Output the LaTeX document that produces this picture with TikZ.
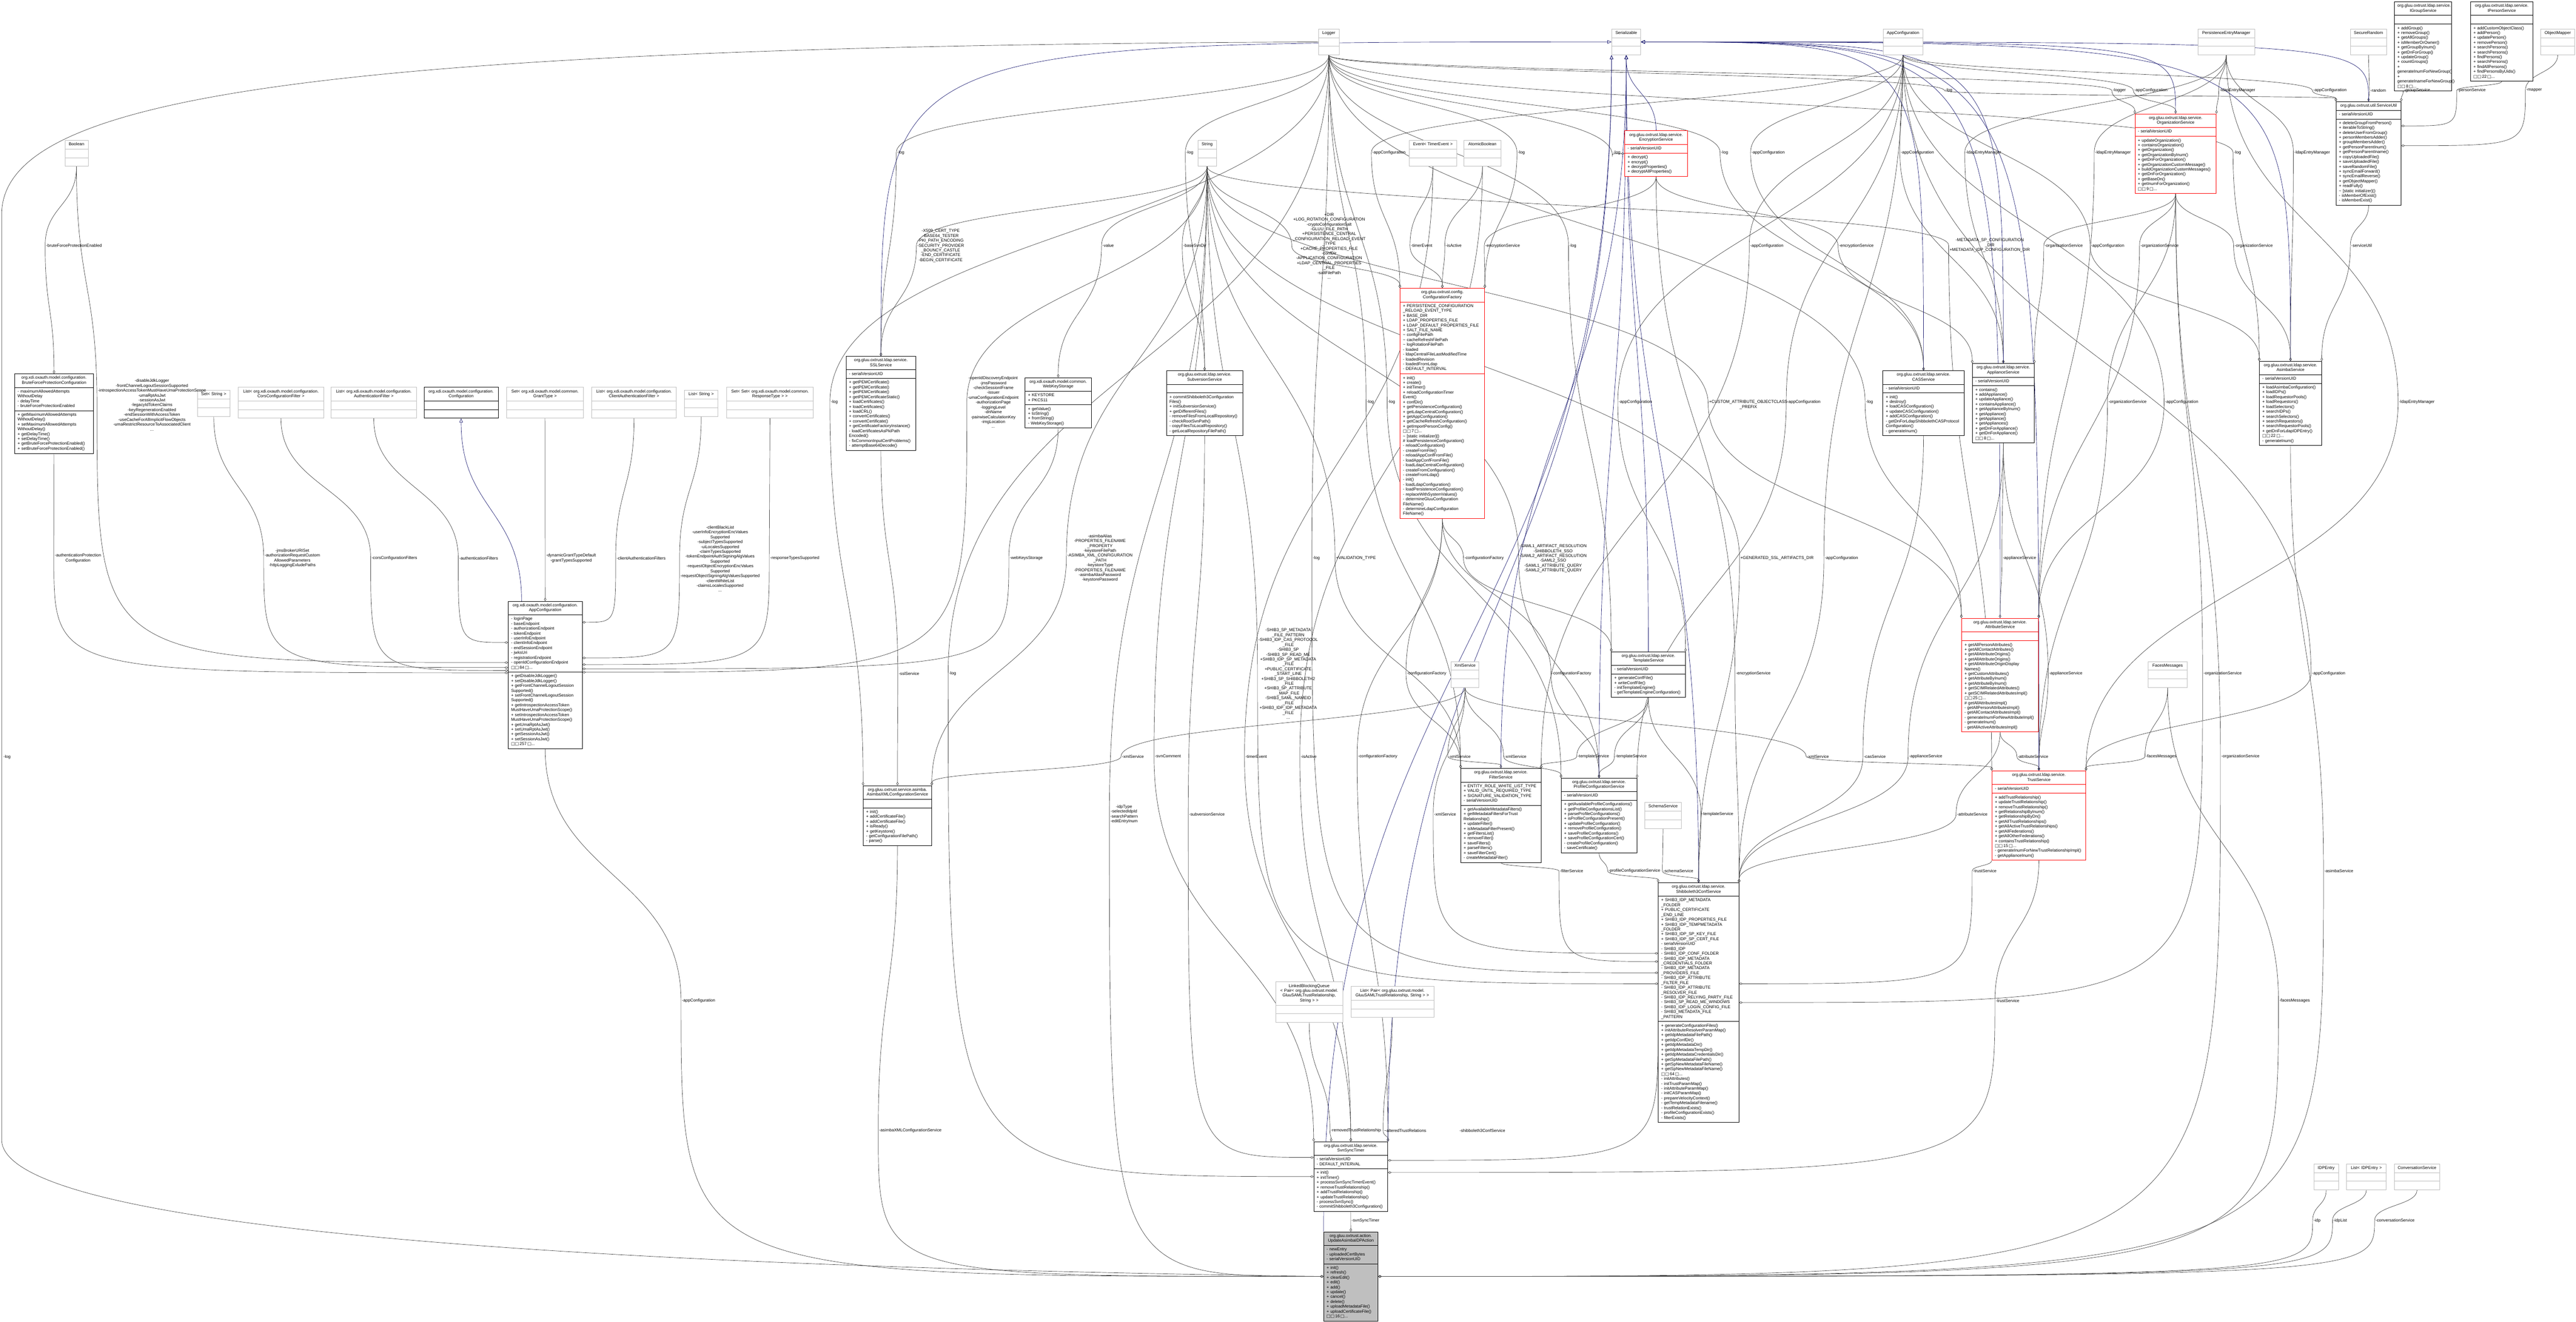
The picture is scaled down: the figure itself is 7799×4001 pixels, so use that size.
\documentclass[tikz,border=0pt]{standalone}
\usepackage{fontspec}
\setmainfont{Liberation Sans}
\newfontfamily\boxglyphs{DejaVu Sans}
\usetikzlibrary{shapes.multipart,arrows.meta,calc,backgrounds}
\definecolor{EdgeGray}{HTML}{404040}
\definecolor{InheritBlue}{HTML}{191970}
\definecolor{ExtGray}{HTML}{BFBFBF}
\definecolor{ClassRed}{HTML}{FF0000}
\hyphenpenalty=10000
\exhyphenpenalty=10000
\newcommand{\ttl}[1]{\centering\strut#1\strut\par}
\newcommand{\mb}[1]{\strut#1\strut}
\newcommand{\more}[1]{{\boxglyphs\char"25A1\char"25A1}\,#1\,{\boxglyphs\char"25A1}...}
\tikzset{
  cls/.style={rectangle split, rectangle split parts=3, draw=black, fill=white,
    line width=0.3pt, anchor=north west, align=left, inner xsep=2.5pt, inner ysep=1.5pt,
    font=\fontsize{3.6pt}{4.18pt}\selectfont},
  redcls/.style={cls, draw=ClassRed, line width=0.4pt},
  extcls/.style={cls, draw=ExtGray},
  maincls/.style={cls, fill=ExtGray},
  lbl/.style={align=center, inner sep=0.6pt, font=\fontsize{3.6pt}{4.18pt}\selectfont},
  member/.style={draw=EdgeGray, line width=0.3pt, -{Diamond[open,length=3pt,width=2pt]}},
  inherit/.style={draw=InheritBlue, line width=0.3pt, -{Triangle[open,length=3.5pt,width=3pt]}},
  vflow/.style={to path={.. controls ($(\tikztostart)!.5!(\tikztostart|-\tikztotarget)$)
      and ($(\tikztotarget)!.5!(\tikztotarget|-\tikztostart)$) .. (\tikztotarget) \tikztonodes}},
  corner/.style={to path={.. controls (\tikztostart|-\tikztotarget) .. (\tikztotarget) \tikztonodes}},
}
\begin{document}
\begin{tikzpicture}[x=0.01cm,y=-0.01cm]
\useasboundingbox (0,0) rectangle (7799,4001);

% top row types
\node[extcls, text width=12.4pt] (logger) at (3992,87) {\ttl{Logger}\nodepart{two}\strut\nodepart{three}\strut};
\node[extcls, text width=20pt] (serial) at (4879,87) {\ttl{Serializable}\nodepart{two}\strut\nodepart{three}\strut};
\node[extcls, text width=29.1pt] (appconf) at (5701,87) {\ttl{AppConfiguration}\nodepart{two}\strut\nodepart{three}\strut};
\node[extcls, text width=43.7pt] (pem) at (6654,87) {\ttl{PersistenceEntryManager}\nodepart{two}\strut\nodepart{three}\strut};
\node[extcls, text width=26.3pt] (secrand) at (7115,87) {\ttl{SecureRandom}\nodepart{two}\strut\nodepart{three}\strut};
\node[cls, text width=44.2pt] (igroup) at (7249,5) {\ttl{org.gluu.oxtrust.ldap.service.\\IGroupService}\nodepart{two}\strut\nodepart{three}\mb{+ addGroup()\\+ removeGroup()\\+ getAllGroups()\\+ isMemberOrOwner()\\+ getGroupByInum()\\+ getDnForGroup()\\+ updateGroup()\\+ countGroups()\\+ generateInumForNewGroup()\\+ generateInameForNewGroup()\\\more{8}}};
\node[cls, text width=48.8pt] (iperson) at (7479,5) {\ttl{org.gluu.oxtrust.ldap.service.\\IPersonService}\nodepart{two}\strut\nodepart{three}\mb{+ addCustomObjectClass()\\+ addPerson()\\+ updatePerson()\\+ removePerson()\\+ searchPersons()\\+ searchPersons()\\+ findPersons()\\+ searchPersons()\\+ findAllPersons()\\+ findPersonsByUids()\\\more{22}}};
\node[extcls, text width=24pt] (mapper) at (7692,87) {\ttl{ObjectMapper}\nodepart{two}\strut\nodepart{three}\strut};

% second row
\node[extcls, text width=14.9pt] (boolean) at (196,424) {\ttl{Boolean}\nodepart{two}\strut\nodepart{three}\strut};
\node[extcls, text width=10.9pt] (string) at (3626,424) {\ttl{String}\nodepart{two}\strut\nodepart{three}\strut};
\node[extcls, text width=35.7pt] (event) at (4266,424) {\ttl{Event< TimerEvent >}\nodepart{two}\strut\nodepart{three}\strut};
\node[extcls, text width=26.6pt] (atomic) at (4432,424) {\ttl{AtomicBoolean}\nodepart{two}\strut\nodepart{three}\strut};
\node[redcls, text width=49.1pt] (encsvc) at (4918,395) {\ttl{org.gluu.oxtrust.ldap.service.\\EncryptionService}\nodepart{two}\mb{- serialVersionUID}\nodepart{three}\mb{+ decrypt()\\+ encrypt()\\+ decryptProperties()\\+ decryptAllProperties()}};
\node[redcls, text width=65pt] (orgsvc) at (6463,344) {\ttl{org.gluu.oxtrust.ldap.service.\\OrganizationService}\nodepart{two}\mb{- serialVersionUID}\nodepart{three}\mb{+ updateOrganization()\\+ containsOrganization()\\+ getOrganization()\\+ getOrganizationByInum()\\+ getDnForOrganization()\\+ getOrganizationCustomMessage()\\+ buildOrganizationCustomMessages()\\+ getDnForOrganization()\\+ getBaseDn()\\+ getInumForOrganization()\\\more{9}}};
\node[cls, text width=51pt] (svcutil) at (7072,307) {\ttl{org.gluu.oxtrust.util.ServiceUtil}\nodepart{two}\mb{- serialVersionUID}\nodepart{three}\mb{+ deleteGroupFromPerson()\\+ iterableToString()\\+ deleteUserFromGroup()\\+ personMembersAdder()\\+ groupMembersAdder()\\+ getPersonParentInum()\\+ getPersonParentIname()\\+ copyUploadedFile()\\+ saveUploadedFile()\\+ saveRandomFile()\\+ syncEmailForward()\\+ syncEmailReverse()\\+ getObjectMapper()\\+ readFully()\\\textasciitilde{} [static initializer]()\\- isMemberOfExist()\\- isMemberExist()}};
\node[redcls, text width=67.8pt] (conffac) at (4238,872) {\ttl{org.gluu.oxtrust.config.\\ConfigurationFactory}\nodepart{two}\mb{+ PERSISTENCE\_CONFIGURATION\\\_RELOAD\_EVENT\_TYPE\\+ BASE\_DIR\\+ LDAP\_PROPERTIES\_FILE\\+ LDAP\_DEFAULT\_PROPERTIES\_FILE\\+ SALT\_FILE\_NAME\\\textasciitilde{} configFilePath\\\textasciitilde{} cacheRefreshFilePath\\\textasciitilde{} logRotationFilePath\\- loaded\\- ldapCentralFileLastModifiedTime\\- loadedRevision\\- loadedFromLdap\\- DEFAULT\_INTERVAL}\nodepart{three}\mb{+ init()\\+ create()\\+ initTimer()\\+ reloadConfigurationTimer\\Event()\\+ confDir()\\+ getPersistenceConfiguration()\\+ getLdapCentralConfiguration()\\+ getAppConfiguration()\\+ getCacheRefreshConfiguration()\\+ getImportPersonConfig()\\\more{7}\\\textasciitilde{} [static initializer]()\\\# loadPersistenceConfiguration()\\- reloadConfiguration()\\- createFromFile()\\- reloadAppConfFromFile()\\- loadAppConfFromFile()\\- loadLdapCentralConfiguration()\\- createFromConfiguration()\\- createFromLdap()\\- init()\\- loadLdapConfiguration()\\- loadPersistenceConfiguration()\\- replaceWithSystemValues()\\- determineGluuConfiguration\\FileName()\\- determineLdapConfiguration\\FileName()}};

% oxauth model types
\node[cls, anchor=south west, text width=62.7pt] (brute) at (44,1373) {\ttl{org.xdi.oxauth.model.configuration.\\BruteForceProtectionConfiguration}\nodepart{two}\mb{- maximumAllowedAttempts\\WithoutDelay\\- delayTime\\- bruteForceProtectionEnabled}\nodepart{three}\mb{+ getMaximumAllowedAttempts\\WithoutDelay()\\+ setMaximumAllowedAttempts\\WithoutDelay()\\+ getDelayTime()\\+ setDelayTime()\\+ getBruteForceProtectionEnabled()\\+ setBruteForceProtectionEnabled()}};
\node[extcls, text width=23.2pt] (setstr) at (597,1181) {\ttl{Set< String >}\nodepart{two}\strut\nodepart{three}\strut};
\node[extcls, text width=68.4pt] (listcors) at (721,1172) {\ttl{List< org.xdi.oxauth.model.configuration.\\CorsConfigurationFilter >}\nodepart{two}\strut\nodepart{three}\strut};
\node[extcls, text width=68.4pt] (listauth) at (1002,1172) {\ttl{List< org.xdi.oxauth.model.configuration.\\AuthenticationFilter >}\nodepart{two}\strut\nodepart{three}\strut};
\node[cls, text width=59pt] (config) at (1283,1172) {\ttl{org.xdi.oxauth.model.configuration.\\Configuration}\nodepart{two}\strut\nodepart{three}\strut};
\node[extcls, text width=61.3pt] (setgrant) at (1533,1172) {\ttl{Set< org.xdi.oxauth.model.common.\\GrantType >}\nodepart{two}\strut\nodepart{three}\strut};
\node[extcls, text width=67.8pt] (listclient) at (1791,1172) {\ttl{List< org.xdi.oxauth.model.configuration.\\ClientAuthenticationFilter >}\nodepart{two}\strut\nodepart{three}\strut};
\node[extcls, text width=23.7pt] (liststr) at (2072,1181) {\ttl{List< String >}\nodepart{two}\strut\nodepart{three}\strut};
\node[extcls, text width=69.8pt] (setset) at (2199,1172) {\ttl{Set< Set< org.xdi.oxauth.model.common.\\ResponseType > >}\nodepart{two}\strut\nodepart{three}\strut};

% services, middle rows
\node[cls, text width=55pt] (sslsvc) at (2561,1078) {\ttl{org.gluu.oxtrust.ldap.service.\\SSLService}\nodepart{two}\mb{- serialVersionUID}\nodepart{three}\mb{+ getPEMCertificate()\\+ getPEMCertificate()\\+ getPEMCertificate()\\+ getPEMCertificateStatic()\\+ loadCertificates()\\+ loadCertificates()\\+ loadCRL()\\+ convertCertificates()\\+ convertCertificate()\\+ getCertificateFactoryInstance()\\- loadCertificatesAsPkiPath\\Encoded()\\- fixCommonInputCertProblems()\\- attemptBase64Decode()}};
\node[cls, text width=51.9pt] (webkey) at (3103,1143) {\ttl{org.xdi.oxauth.model.common.\\WebKeyStorage}\nodepart{two}\mb{+ KEYSTORE\\+ PKCS11}\nodepart{three}\mb{+ getValue()\\+ toString()\\+ fromString()\\- WebKeyStorage()}};
\node[cls, text width=60.7pt] (svnsvc) at (3531,1122) {\ttl{org.gluu.oxtrust.ldap.service.\\SubversionService}\nodepart{two}\strut\nodepart{three}\mb{+ commitShibboleth3Configuration\\Files()\\+ initSubversionService()\\+ getDifferentFiles()\\- removeFilesFromLocalRepository()\\- checkRootSvnPath()\\- copyFilesToLocalRepository()\\- getLocalRepositoryFilePath()}};
\node[cls, text width=65pt] (cassvc) at (5700,1122) {\ttl{org.gluu.oxtrust.ldap.service.\\CASService}\nodepart{two}\mb{- serialVersionUID}\nodepart{three}\mb{+ init()\\+ destroy()\\+ loadCASConfiguration()\\+ updateCASConfiguration()\\+ addCASConfiguration()\\- getDnForLdapShibbolethCASProtocol\\Configuration()\\- generateInum()}};
\node[cls, text width=48.2pt] (appsvc) at (5971,1100) {\ttl{org.gluu.oxtrust.ldap.service.\\ApplianceService}\nodepart{two}\mb{- serialVersionUID}\nodepart{three}\mb{+ contains()\\+ addAppliance()\\+ updateAppliance()\\+ containsAppliance()\\+ getApplianceByInum()\\+ getAppliance()\\+ getAppliance()\\+ getAppliances()\\+ getDnForAppliance()\\+ getDnForAppliance()\\\more{8}}};
\node[cls, text width=48.5pt] (asimbasvc) at (6840,1093) {\ttl{org.gluu.oxtrust.ldap.service.\\AsimbaService}\nodepart{two}\mb{- serialVersionUID}\nodepart{three}\mb{+ loadAsimbaConfiguration()\\+ loadIDPs()\\+ loadRequestorPools()\\+ loadRequestors()\\+ loadSelectors()\\+ searchIDPs()\\+ searchSelectors()\\+ searchRequestors()\\+ searchRequestorPools()\\+ getDnForLdapIDPEntry()\\\more{22}\\- generateInum()}};
\node[cls, text width=58.7pt] (oxappconf) at (1538,1820) {\ttl{org.xdi.oxauth.model.configuration.\\AppConfiguration}\nodepart{two}\mb{- loginPage\\- baseEndpoint\\- authorizationEndpoint\\- tokenEndpoint\\- userInfoEndpoint\\- clientInfoEndpoint\\- endSessionEndpoint\\- jwksUri\\- registrationEndpoint\\- openIdConfigurationEndpoint\\\more{84}}\nodepart{three}\mb{+ getDisableJdkLogger()\\+ setDisableJdkLogger()\\+ getFrontChannelLogoutSession\\Supported()\\+ setFrontChannelLogoutSession\\Supported()\\+ getIntrospectionAccessToken\\MustHaveUmaProtectionScope()\\+ setIntrospectionAccessToken\\MustHaveUmaProtectionScope()\\+ getUmaRptAsJwt()\\+ setUmaRptAsJwt()\\+ getSessionAsJwt()\\+ setSessionAsJwt()\\\more{257}}};
\node[cls, text width=58.7pt] (tplsvc) at (4878,1973) {\ttl{org.gluu.oxtrust.ldap.service.\\TemplateService}\nodepart{two}\mb{- serialVersionUID}\nodepart{three}\mb{+ generateConfFile()\\+ writeConfFile()\\- initTemplateEngine()\\- getTemplateEngineConfiguration()}};
\node[extcls, text width=18.9pt] (xmlsvc) at (4393,2002) {\ttl{XmlService}\nodepart{two}\strut\nodepart{three}\strut};
\node[redcls, text width=61.3pt] (attrsvc) at (5938,1871) {\ttl{org.gluu.oxtrust.ldap.service.\\AttributeService}\nodepart{two}\strut\nodepart{three}\mb{+ getAllPersonAttributes()\\+ getAllContactAttributes()\\+ getAllAttributeOrigins()\\+ getAllAttributeOrigins()\\+ getAllAttributeOriginDisplay\\Names()\\+ getCustomAttributes()\\+ getAttributeByInum()\\+ getAttributeByInum()\\+ getSCIMRelatedAttributes()\\+ getSCIMRelatedAttributesImpl()\\\more{25}\\\# getAllAttributesImpl()\\- getAllPersonAttributesImpl()\\- getAllContactAttributesImpl()\\- generateInumForNewAttributeImpl()\\- generateInum()\\- getAllActiveAttributesImpl()}};
\node[extcls, text width=28.6pt] (faces) at (6503,2002) {\ttl{FacesMessages}\nodepart{two}\strut\nodepart{three}\strut};

% lower services
\node[cls, text width=64.1pt] (filtersvc) at (4422,2326) {\ttl{org.gluu.oxtrust.ldap.service.\\FilterService}\nodepart{two}\mb{+ ENTITY\_ROLE\_WHITE\_LIST\_TYPE\\+ VALID\_UNTIL\_REQUIRED\_TYPE\\+ SIGNATURE\_VALIDATION\_TYPE\\- serialVersionUID}\nodepart{three}\mb{+ getAvailableMetadataFilters()\\+ getMetadataFiltersForTrust\\Relationship()\\+ updateFilter()\\+ isMetadataFilterPresent()\\+ getFiltersList()\\+ removeFilter()\\+ saveFilters()\\+ parseFilters()\\+ saveFilterCert()\\- createMetadataFilter()}};
\node[cls, text width=60.2pt] (profsvc) at (4726,2355) {\ttl{org.gluu.oxtrust.ldap.service.\\ProfileConfigurationService}\nodepart{two}\mb{- serialVersionUID}\nodepart{three}\mb{+ getAvailableProfileConfigurations()\\+ getProfileConfigurationsList()\\+ parseProfileConfigurations()\\+ isProfileConfigurationPresent()\\+ updateProfileConfiguration()\\+ removeProfileConfiguration()\\+ saveProfileConfigurations()\\+ saveProfileConfigurationCert()\\- createProfileConfiguration()\\- saveCertificate()}};
\node[extcls, text width=26.6pt] (schema) at (4979,2429) {\ttl{SchemaService}\nodepart{two}\strut\nodepart{three}\strut};
\node[redcls, text width=75.8pt] (trustsvc) at (6030,2333) {\ttl{org.gluu.oxtrust.ldap.service.\\TrustService}\nodepart{two}\mb{- serialVersionUID}\nodepart{three}\mb{+ addTrustRelationship()\\+ updateTrustRelationship()\\+ removeTrustRelationship()\\+ getRelationshipByInum()\\+ getRelationshipByDn()\\+ getAllTrustRelationships()\\+ getAllActiveTrustRelationships()\\+ getAllFederations()\\+ getAllOtherFederations()\\+ containsTrustRelationship()\\\more{15}\\- generateInumForNewTrustRelationshipImpl()\\- getApplianceInum()}};
\node[cls, text width=53.9pt] (asimbaxml) at (2613,2378) {\ttl{org.gluu.oxtrust.service.asimba.\\AsimbaXMLConfigurationService}\nodepart{two}\strut\nodepart{three}\mb{+ init()\\+ addCertificateFile()\\+ addCertificateFile()\\+ isReady()\\+ getKeystore()\\- getConfigurationFilePath()\\- parse()}};
\node[cls, text width=64.4pt] (shibsvc) at (5020,2672) {\ttl{org.gluu.oxtrust.ldap.service.\\Shibboleth3ConfService}\nodepart{two}\mb{+ SHIB3\_IDP\_METADATA\\\_FOLDER\\+ PUBLIC\_CERTIFICATE\\\_END\_LINE\\+ SHIB3\_IDP\_PROPERTIES\_FILE\\+ SHIB3\_IDP\_TEMPMETADATA\\\_FOLDER\\+ SHIB3\_IDP\_SP\_KEY\_FILE\\+ SHIB3\_IDP\_SP\_CERT\_FILE\\- serialVersionUID\\- SHIB3\_IDP\\- SHIB3\_IDP\_CONF\_FOLDER\\- SHIB3\_IDP\_METADATA\\\_CREDENTIALS\_FOLDER\\- SHIB3\_IDP\_METADATA\\\_PROVIDERS\_FILE\\- SHIB3\_IDP\_ATTRIBUTE\\\_FILTER\_FILE\\- SHIB3\_IDP\_ATTRIBUTE\\\_RESOLVER\_FILE\\- SHIB3\_IDP\_RELYING\_PARTY\_FILE\\- SHIB3\_SP\_READ\_ME\_WINDOWS\\- SHIB3\_IDP\_LOGIN\_CONFIG\_FILE\\- SHIB3\_METADATA\_FILE\\\_PATTERN}\nodepart{three}\mb{+ generateConfigurationFiles()\\+ initAttributeResolverParamMap()\\+ getIdpMetadataFilePath()\\+ getIdpConfDir()\\+ getIdpMetadataDir()\\+ getIdpMetadataTempDir()\\+ getIdpMetadataCredentialsDir()\\+ getSpMetadataFilePath()\\+ getSpNewMetadataFileName()\\+ getSpNewMetadataFileName()\\\more{64}\\- initAttributes()\\- initTrustParamMap()\\- initAttributeParamMap()\\- initCASParamMap()\\- prepareVelocityContext()\\- getTempMetadataFilename()\\- trustRelationExists()\\- profileConfigurationExists()\\- filterExists()}};
\node[extcls, text width=52.5pt] (queue) at (3862,2972) {\ttl{LinkedBlockingQueue\\< Pair< org.gluu.oxtrust.model.\\GluuSAMLTrustRelationship,\\String > >}\nodepart{two}\strut\nodepart{three}\strut};
\node[extcls, text width=66.4pt] (listpair) at (4089,2986) {\ttl{List< Pair< org.gluu.oxtrust.model.\\GluuSAMLTrustRelationship, String > >}\nodepart{two}\strut\nodepart{three}\strut};
\node[cls, text width=58.7pt] (svntimer) at (3977,3456) {\ttl{org.gluu.oxtrust.ldap.service.\\SvnSyncTimer}\nodepart{two}\mb{- serialVersionUID\\- DEFAULT\_INTERVAL}\nodepart{three}\mb{+ init()\\+ initTimer()\\+ processSvnSyncTimerEvent()\\+ removeTrustRelationship()\\+ addTrustRelationship()\\+ updateTrustRelationship()\\- processSvnSync()\\- commitShibboleth3Configuration()}};
\node[extcls, text width=16.1pt] (idpentry) at (7005,3523) {\ttl{IDPEntry}\nodepart{two}\strut\nodepart{three}\strut};
\node[extcls, text width=28.9pt] (listidp) at (7104,3523) {\ttl{List< IDPEntry >}\nodepart{two}\strut\nodepart{three}\strut};
\node[extcls, text width=34.3pt] (convsvc) at (7248,3523) {\ttl{ConversationService}\nodepart{two}\strut\nodepart{three}\strut};
\node[maincls, text width=41.7pt] (action) at (4007,3729) {\ttl{org.gluu.oxtrust.action.\\UpdateAsimbaIDPAction}\nodepart{two}\mb{- newEntry\\- uploadedCertBytes\\- serialVersionUID}\nodepart{three}\mb{+ init()\\+ refresh()\\+ clearEdit()\\+ edit()\\+ add()\\+ update()\\+ cancel()\\+ delete()\\+ uploadMetadataFile()\\+ uploadCertificateFile()\\\more{16}}};

% side points of the boxes
\coordinate (svcR1) at ([yshift=-21.1pt]svcutil.north east);
\coordinate (svcR2) at ([yshift=-38.1pt]svcutil.north east);
\coordinate (oxTop) at ([xshift=11.7pt]oxappconf.north west);
\coordinate (oxL1) at ([yshift=-35.6pt]oxappconf.north west);
\coordinate (oxL2) at ([yshift=-52.9pt]oxappconf.north west);
\coordinate (oxL3) at ([yshift=-57.2pt]oxappconf.north west);
\coordinate (oxL4) at ([yshift=-59.7pt]oxappconf.north west);
\coordinate (oxL5) at ([yshift=-61.7pt]oxappconf.north west);
\coordinate (oxR1) at ([yshift=-18.2pt]oxappconf.north east);
\coordinate (oxR2) at ([yshift=-48.9pt]oxappconf.north east);
\coordinate (oxR3) at ([yshift=-54.6pt]oxappconf.north east);
\coordinate (oxR4) at ([yshift=-58.3pt]oxappconf.north east);
\coordinate (oxR5) at ([yshift=-61.2pt]oxappconf.north east);
\coordinate (shibL1) at ([yshift=-60.9pt]shibsvc.north west);
\coordinate (shibL2) at ([yshift=-68pt]shibsvc.north west);
\coordinate (shibL3) at ([yshift=-77.7pt]shibsvc.north west);
\coordinate (shibL4) at ([yshift=-87.1pt]shibsvc.north west);
\coordinate (shibL5) at ([yshift=-122.6pt]shibsvc.north west);
\coordinate (shibR1) at ([yshift=-87.1pt]shibsvc.north east);
\coordinate (svnL1) at ([yshift=-13.7pt]svntimer.north west);
\coordinate (svnR1) at ([yshift=-26.7pt]svntimer.north east);
\coordinate (svnR2) at ([yshift=-16.2pt]svntimer.north east);
\coordinate (svnT1) at ([xshift=15.1pt]svntimer.north west);
\coordinate (logTurn) at (5,650);
\coordinate (logDown) at (5,3450);

% edge labels
\node[lbl] (lA1) at (5900,274) {-log};
\node[lbl] (lA2) at (6416,274) {-logger};
\node[lbl] (lA3) at (6512,274) {-appConfiguration};
\node[lbl] (lA4) at (6774,274) {-ldapEntryManager};
\node[lbl] (lA5) at (7054,274) {-appConfiguration};
\node[lbl] (lA6) at (7200,274) {-random};
\node[lbl] (lA7) at (7318,274) {-groupService};
\node[lbl] (lA8) at (7483,274) {-personService};
\node[lbl] (lA9) at (7672,274) {-mapper};

\node[lbl] (lB1) at (2727,462) {-log};
\node[lbl] (lB2) at (3602,462) {-log};
\node[lbl] (lB3) at (4205,462) {-appConfiguration};
\node[lbl] (lB4) at (4606,462) {-log};
\node[lbl] (lB5) at (4895,462) {-log};
\node[lbl] (lB6) at (5221,462) {-log};
\node[lbl] (lB7) at (5353,462) {-appConfiguration};
\node[lbl] (lB8) at (5805,462) {-appConfiguration};
\node[lbl] (lB9) at (6005,462) {-ldapEntryManager};
\node[lbl] (lB10) at (6397,462) {-ldapEntryManager};
\node[lbl] (lB11) at (6774,462) {-log};
\node[lbl] (lB12) at (7000,462) {-ldapEntryManager};

\node[lbl] (lC1) at (224,744) {-bruteForceProtectionEnabled};
\node[lbl] (lC2) at (2848,744) {-X509\_CERT\_TYPE\\-BASE64\_TESTER\\-PKI\_PATH\_ENCODING\\-SECURITY\_PROVIDER\\\_BOUNCY\_CASTLE\\-END\_CERTIFICATE\\-BEGIN\_CERTIFICATE};
\node[lbl] (lC3) at (3355,744) {-value};
\node[lbl] (lC4) at (3617,744) {-baseSvnDir};
\node[lbl] (lC5) at (4024,745) {+DIR\\+LOG\_ROTATION\_CONFIGURATION\\-cryptoConfigurationSalt\\-GLUU\_FILE\_PATH\\+PERSISTENCE\_CENTRAL\\\_CONFIGURATION\_RELOAD\_EVENT\\\_TYPE\\+CACHE\_PROPERTIES\_FILE\\-confDir\\-APPLICATION\_CONFIGURATION\\+LDAP\_CENTRAL\_PROPERTIES\\\_FILE\\-saltFilePath\\...};
\node[lbl] (lC6) at (4304,744) {-timerEvent};
\node[lbl] (lC7) at (4401,744) {-isActive};
\node[lbl] (lC8) at (4549,744) {-encryptionService};
\node[lbl] (lC9) at (4762,744) {-log};
\node[lbl] (lC10) at (5349,744) {-appConfiguration};
\node[lbl] (lC11) at (5620,744) {-encryptionService};
\node[lbl] (lC12) at (6024,743) {-METADATA\_SP\_CONFIGURATION\\\_DIR\\+METADATA\_IDP\_CONFIGURATION\_DIR};
\node[lbl] (lC13) at (6248,744) {-organizationService};
\node[lbl] (lC14) at (6381,744) {-appConfiguration};
\node[lbl] (lC15) at (6538,744) {-organizationService};
\node[lbl] (lC16) at (6823,744) {-organizationService};
\node[lbl] (lC17) at (7150,744) {-serviceUtil};

\node[lbl] (lDb) at (460,1226) {-disableJdkLogger\\-frontChannelLogoutSessionSupported\\-introspectionAccessTokenMustHaveUmaProtectionScope\\-umaRptAsJwt\\-sessionAsJwt\\-legacyIdTokenClaims\\-keyRegenerationEnabled\\-endSessionWithAccessToken\\-useCacheForAllImplicitFlowObjects\\-umaRestrictResourceToAssociatedClient\\...};
\node[lbl] (lD1) at (2526,1218) {-log};
\node[lbl] (lD2) at (3007,1218) {-openIdDiscoveryEndpoint\\-jmsPassword\\-checkSessionIFrame\\-issuer\\-umaConfigurationEndpoint\\-authorizationPage\\-loggingLevel\\-dnName\\-pairwiseCalculationKey\\-imgLocation\\...};
\node[lbl] (lD3) at (4149,1218) {-log};
\node[lbl] (lD4) at (4213,1218) {-log};
\node[lbl] (lD5) at (4951,1218) {-appConfiguration};
\node[lbl] (lD6) at (5293,1225) {+CUSTOM\_ATTRIBUTE\_OBJECTCLASS\\\_PREFIX};
\node[lbl] (lD7) at (5461,1218) {-appConfiguration};
\node[lbl] (lD8) at (5660,1218) {-log};
\node[lbl] (lD9) at (6441,1218) {-organizationService};
\node[lbl] (lD10) at (6605,1218) {-appConfiguration};
\node[lbl] (lD11) at (7317,1218) {-ldapEntryManager};

\node[lbl] (lE1) at (236,1690) {-authenticationProtection\\Configuration};
\node[lbl] (lE2) at (885,1690) {-jmsBrokerURISet\\-authorizationRequestCustom\\AllowedParameters\\-httpLoggingExludePaths};
\node[lbl] (lE3) at (1194,1690) {-corsConfigurationFilters};
\node[lbl] (lE4) at (1449,1690) {-authenticationFilters};
\node[lbl] (lE5) at (1729,1690) {-dynamicGrantTypeDefault\\-grantTypesSupported};
\node[lbl] (lE6) at (1941,1690) {-clientAuthenticationFilters};
\node[lbl] (lE7) at (2180,1692) {-clientBlackList\\-userInfoEncryptionEncValues\\Supported\\-subjectTypesSupported\\-uiLocalesSupported\\-claimTypesSupported\\-tokenEndpointAuthSigningAlgValues\\Supported\\-requestObjectEncryptionEncValues\\Supported\\-requestObjectSigningAlgValuesSupported\\-clientWhiteList\\-claimsLocalesSupported\\...};
\node[lbl] (lE8) at (2406,1690) {-responseTypesSupported};
\node[lbl] (lE9) at (3107,1690) {-webKeysStorage};
\node[lbl] (lE10) at (3330,1690) {-asimbaAlias\\-PROPERTIES\_FILENAME\\\_PROPERTY\\-keystoreFilePath\\-ASIMBA\_XML\_CONFIGURATION\\\_PATH\\-keystoreType\\-PROPERTIES\_FILENAME\\-asimbaAliasPassword\\-keystorePassword};
\node[lbl] (lE11) at (3985,1690) {-log};
\node[lbl] (lE12) at (4105,1690) {+VALIDATION\_TYPE};
\node[lbl] (lE13) at (4493,1690) {-configurationFactory};
\node[lbl] (lE14) at (4702,1691) {-SAML1\_ARTIFACT\_RESOLUTION\\-SHIBBOLETH\_SSO\\-SAML2\_ARTIFACT\_RESOLUTION\\-SAML2\_SSO\\-SAML1\_ATTRIBUTE\_QUERY\\-SAML2\_ATTRIBUTE\_QUERY};
\node[lbl] (lE15) at (5380,1690) {+GENERATED\_SSL\_ARTIFACTS\_DIR};
\node[lbl] (lE16) at (5575,1690) {-appConfiguration};
\node[lbl] (lE17) at (6114,1690) {-applianceService};

\node[lbl] (lF1) at (2752,2039) {-sslService};
\node[lbl] (lF2) at (2884,2039) {-log};
\node[lbl] (lF3) at (3900,2040) {-SHIB3\_SP\_METADATA\\\_FILE\_PATTERN\\-SHIB3\_IDP\_CAS\_PROTOCOL\\\_FILE\\-SHIB3\_SP\\-SHIB3\_SP\_READ\_ME\\+SHIB3\_IDP\_SP\_METADATA\\\_FILE\\+PUBLIC\_CERTIFICATE\\\_START\_LINE\\+SHIB3\_SP\_SHIBBOLETH2\\\_FILE\\+SHIB3\_SP\_ATTRIBUTE\\\_MAP\_FILE\\-SHIB3\_SAML\_NAMEID\\\_FILE\\+SHIB3\_IDP\_IDP\_METADATA\\\_FILE\\...};
\node[lbl] (lF4) at (4319,2039) {-configurationFactory};
\node[lbl] (lF5) at (4758,2039) {-configurationFactory};
\node[lbl] (lF6) at (5308,2039) {-encryptionService};
\node[lbl] (lF7) at (6254,2039) {-applianceService};
\node[lbl] (lF8) at (6729,2039) {-organizationService};
\node[lbl] (lF9) at (7050,2039) {-appConfiguration};

\node[lbl, anchor=west] (lG0) at (8,2292) {-log};
\node[lbl] (lG1) at (3430,2290) {-xmlService};
\node[lbl] (lG2) at (3536,2290) {-svnComment};
\node[lbl] (lG3) at (3803,2290) {-timerEvent};
\node[lbl] (lG4) at (3962,2290) {-isActive};
\node[lbl] (lG5) at (4171,2290) {-configurationFactory};
\node[lbl] (lG6) at (4419,2290) {-xmlService};
\node[lbl] (lG7) at (4588,2290) {-xmlService};
\node[lbl] (lG8) at (4824,2290) {-templateService};
\node[lbl] (lG9) at (4938,2290) {-templateService};
\node[lbl] (lG10) at (5504,2290) {-xmlService};
\node[lbl] (lG11) at (5676,2290) {-casService};
\node[lbl] (lG12) at (5830,2290) {-applianceService};
\node[lbl] (lG13) at (6155,2290) {-attributeService};
\node[lbl] (lG14) at (6543,2290) {-facesMessages};
\node[lbl] (lG15) at (6783,2290) {-organizationService};

\node[lbl] (lH1) at (3403,2465) {-idpType\\-selectedIdpId\\-searchPattern\\-editEntryInum};
\node[lbl] (lH2) at (3654,2465) {-subversionService};
\node[lbl] (lH3) at (4375,2465) {-xmlService};
\node[lbl] (lH4) at (5200,2465) {-templateService};
\node[lbl] (lH5) at (5971,2465) {-attributeService};

\node[lbl] (lI1) at (4758,2637) {-filterService};
\node[lbl] (lI2) at (4948,2637) {-profileConfigurationService};
\node[lbl] (lI3) at (5081,2637) {-schemaService};
\node[lbl] (lI4) at (6009,2637) {-trustService};
\node[lbl] (lI5) at (7081,2637) {-asimbaService};

\node[lbl] (lJ1) at (2115,3030) {-appConfiguration};
\node[lbl] (lJ2) at (6078,3030) {-trustService};
\node[lbl] (lJ3) at (6947,3030) {-facesMessages};

\node[lbl] (lK1) at (2756,3423) {-asimbaXMLConfigurationService};
\node[lbl] (lK2) at (4105,3423) {-removedTrustRelationship};
\node[lbl] (lK3) at (4254,3423) {\textasciitilde{}alteredTrustRelations};
\node[lbl] (lK4) at (4488,3423) {-shibboleth3ConfService};

\node[lbl] (lL1) at (4134,3695) {-svnSyncTimer};
\node[lbl] (lL2) at (7015,3695) {-idp};
\node[lbl] (lL3) at (7085,3695) {-idpList};
\node[lbl] (lL4) at (7251,3695) {-conversationService};

\begin{scope}[on background layer]
% members, top row down
\draw[member] (logger.south) to[vflow] (lA1.west) to[vflow] (svcutil.north west);
\draw[member] (logger.south) to[vflow] (lA2.west) to[vflow] (orgsvc.north west);
\draw[member] (appconf.south) to[vflow] (lA3.west) to[vflow] (orgsvc.north);
\draw[member] (pem.south) to[vflow] (lA4.west) to[vflow] (orgsvc.north east);
\draw[member] (appconf.south) to[vflow] (lA5.west) to[vflow] (svcutil.north west);
\draw[member] (secrand.south) to[vflow] (lA6.west) to[vflow] (svcutil.north);
\draw[member] (igroup.south) to[vflow] (lA7.west) to[vflow] (svcutil.north east);
\draw[member] (iperson.south) to[vflow] (lA8.west) to[corner] (svcR1);
\draw[member] (mapper.south) to[vflow] (lA9.west) to[corner] (svcR2);

\draw[member] (logger.south) to[vflow] (lB1.west) to[vflow] (sslsvc.north);
\draw[member] (logger.south) to[vflow] (lB2.west) to[vflow] (svnsvc.north);
\draw[member] (appconf.south) to[vflow] (lB3.west) to[vflow] (conffac.north west);
\draw[member] (logger.south) to[vflow] (lB4.west) to[vflow] (conffac.north east);
\draw[member] (logger.south) to[vflow] (lB5.south west) to[corner] (encsvc.west);
\draw[member] (logger.south) to[vflow] (lB6.west) to[vflow] (cassvc.north);
\draw[member] (appconf.south) to[vflow] (lB7.west) to[vflow] (cassvc.north);
\draw[member] (appconf.south) to[vflow] (lB8.west) to[vflow] (appsvc.north);
\draw[member] (pem.south) to[vflow] (lB9.west) to[vflow] (appsvc.north);
\draw[member] (pem.south) to[vflow] (lB10.west) to[vflow] (attrsvc.north east);
\draw[member] (logger.south) to[vflow] (lB11.west) to[vflow] (asimbasvc.north west);
\draw[member] (pem.south) to[vflow] (lB12.west) to[vflow] (asimbasvc.north);

\draw[member] (boolean.south) to[vflow] (lC1.west) to[vflow] (brute.north);
\draw[member] (string.south) to[vflow] (lC2.west) to[vflow] (sslsvc.north);
\draw[member] (string.south) to[vflow] (lC3.west) to[vflow] (webkey.north);
\draw[member] (string.south) to[vflow] (lC4.west) to[vflow] (svnsvc.north);
\draw[member] (string.south) to[vflow] (lC5.west) to[vflow] (conffac.north west);
\draw[member] (event.south) to[vflow] (lC6.west) to[vflow] (conffac.north);
\draw[member] (atomic.south) to[vflow] (lC7.west) to[vflow] (conffac.north);
\draw[member] (encsvc.south) to[vflow] (lC8.west) to[vflow] (conffac.north east);
\draw[member] (logger.south) to[vflow] (lC9.west) to[vflow] (tplsvc.north west);
\draw[member] (appconf.south) to[vflow] (lC10.west) to[vflow] (filtersvc.north east);
\draw[member] (encsvc.south) to[vflow] (lC11.west) to[vflow] (appsvc.north west);
\draw[member] (string.south) to[vflow] (lC12.west) to[vflow] (trustsvc.north west);
\draw[member] (orgsvc.south) to[vflow] (lC13.west) to[vflow] (appsvc.north east);
\draw[member] (appconf.south) to[vflow] (lC14.west) to[vflow] (asimbasvc.north west);
\draw[member] (orgsvc.south) to[vflow] (lC15.west) to[vflow] (attrsvc.north east);
\draw[member] (orgsvc.south) to[vflow] (lC16.west) to[vflow] (asimbasvc.north);
\draw[member] (svcutil.south) to[vflow] (lC17.west) to[vflow] (asimbasvc.north east);

\draw[member] (boolean.south) to[vflow] (lDb.west) to[corner] (oxL2);
\draw[member] (logger.south) to[vflow] (lD1.west) to[vflow] (asimbaxml.north west);
\draw[member] (string.south) to[vflow] (lD2.west) to[corner] (oxR5);
\draw[member] (logger.south) to[vflow] (lD3.west) to[vflow] (filtersvc.north west);
\draw[member] (logger.south) to[vflow] (lD4.west) to[vflow] (profsvc.north west);
\draw[member] (appconf.south) to[vflow] (lD5.west) to[vflow] (tplsvc.north east);
\draw[member] (string.south) to[vflow] (lD6.west) to[vflow] (attrsvc.north west);
\draw[member] (appconf.south) to[vflow] (lD7.west) to[vflow] (profsvc.north east);
\draw[member] (logger.south) to[vflow] (lD8.west) to[vflow] (attrsvc.north west);
\draw[member] (orgsvc.south) to[vflow] (lD9.west) to[vflow] (trustsvc.north);
\draw[member] (appconf.south) to[vflow] (lD10.west) to[vflow] (attrsvc.north east);
\draw[member] (pem.south) to[vflow] (lD11.west) to[vflow] (trustsvc.north east);

\draw[member] (brute.south) to[vflow] (lE1.west) to[corner] (oxL5);
\draw[member] (setstr.south) to[vflow] (lE2.west) to[corner] (oxL3);
\draw[member] (listcors.south) to[vflow] (lE3.west) to[corner] (oxL4);
\draw[member] (listauth.south) to[vflow] (lE4.west) to[corner] (oxL1);
\draw[member] (setgrant.south) -- (oxappconf.north);
\draw[member] (listclient.south) to[vflow] (lE6.west) to[corner] (oxR1);
\draw[member] (liststr.south) to[vflow] (lE7.west) to[corner] (oxR2);
\draw[member] (setset.south) to[vflow] (lE8.west) to[corner] (oxR3);
\draw[member] (webkey.south) to[vflow] (lE9.west) to[corner] (oxR4);
\draw[member] (string.south) to[vflow] (lE10.west) to[vflow] (asimbaxml.north east);
\draw[member] (logger.south) to[vflow] (lE11.west) to[corner] (shibL3);
\draw[member] (string.south) to[vflow] (lE12.west) to[vflow] (filtersvc.north west);
\draw[member] (conffac.south) to[vflow] (lE13.west) to[vflow] (tplsvc.north west);
\draw[member] (string.south) to[vflow] (lE14.west) to[vflow] (profsvc.north);
\draw[member] (string.south) to[vflow] (lE15.west) to[vflow] (shibsvc.north);
\draw[member] (appconf.south) to[vflow] (lE16.west) to[vflow] (shibsvc.north east);
\draw[member] (appsvc.south) to[vflow] (lE17.west) to[vflow] (attrsvc.north);

\draw[member] (sslsvc.south) to[vflow] (lF1.west) to[vflow] (asimbaxml.north);
\draw[member] (logger.south) to[vflow] (lF2.west) to[corner] (svntimer.west);
\draw[member] (string.south) to[vflow] (lF3.west) to[corner] (shibL4);
\draw[member] (conffac.south) to[vflow] (lF4.west) to[vflow] (filtersvc.north west);
\draw[member] (conffac.south) to[vflow] (lF5.west) to[vflow] (profsvc.north);
\draw[member] (encsvc.south) to[vflow] (lF6.west) to[vflow] (shibsvc.north east);
\draw[member] (appsvc.south) to[vflow] (lF7.west) to[vflow] (trustsvc.north);
\draw[member] (orgsvc.south) to[vflow] (lF8.west) to[corner] (shibsvc.east);
\draw[member] (appconf.south) to[vflow] (lF9.west) to[vflow] (trustsvc.north east);

\draw[member] (logger.west) .. controls (900,140) and (5,300) .. (logTurn) -- (logDown) .. controls (5,3700) and (1500,3830) .. (action.west);
\draw[member] (xmlsvc.south) to[vflow] (lG1.west) to[vflow] (asimbaxml.north east);
\draw[member] (string.south) to[vflow] (lG2.west) to[vflow] (svntimer.north west);
\draw[member] (event.south) to[vflow] (lG3.west) to[vflow] (svntimer.north);
\draw[member] (atomic.south) to[vflow] (lG4.west) to[vflow] (svntimer.north);
\draw[member] (conffac.south) to[vflow] (lG5.west) to[vflow] (svntimer.north east);
\draw[member] (xmlsvc.south) to[vflow] (lG6.west) to[vflow] (filtersvc.north);
\draw[member] (xmlsvc.south) to[vflow] (lG7.west) to[vflow] (profsvc.north west);
\draw[member] (tplsvc.south) to[vflow] (lG8.west) to[vflow] (filtersvc.north east);
\draw[member] (tplsvc.south) to[vflow] (lG9.west) to[vflow] (profsvc.north);
\draw[member] (xmlsvc.south) to[vflow] (lG10.west) to[vflow] (trustsvc.north west);
\draw[member] (cassvc.south) to[vflow] (lG11.west) to[vflow] (shibsvc.north east);
\draw[member] (appsvc.south) to[vflow] (lG12.west) to[vflow] (shibsvc.north east);
\draw[member] (attrsvc.south) to[vflow] (lG13.west) to[vflow] (trustsvc.north);
\draw[member] (faces.south) to[vflow] (lG14.west) to[vflow] (trustsvc.north east);
\draw[member] (orgsvc.south) to[vflow] (lG15.west) to[corner] (action.east);

\draw[member] (string.south) to[vflow] (lH1.west) to[corner] (action.west);
\draw[member] (svnsvc.south) to[vflow] (lH2.west) to[corner] (svnL1);
\draw[member] (xmlsvc.south) to[vflow] (lH3.west) to[corner] (shibL1);
\draw[member] (tplsvc.south) to[vflow] (lH4.west) to[vflow] (shibsvc.north);
\draw[member] (attrsvc.south) to[vflow] (lH5.west) to[vflow] (shibsvc.north east);

\draw[member] (filtersvc.south) to[vflow] (lI1.west) to[corner] (shibL2);
\draw[member] (profsvc.south) to[vflow] (lI2.west) to[vflow] (shibsvc.north west);
\draw[member] (schema.south) to[vflow] (lI3.west) to[vflow] (shibsvc.north);
\draw[member] (trustsvc.south west) to[vflow] (lI4.west) to[corner] (shibR1);
\draw[member] (asimbasvc.south) to[vflow] (lI5.west) to[corner] (action.east);

\draw[member] (oxappconf.south) to[vflow] (lJ1.west) to[corner] (action.west);
\draw[member] (trustsvc.south) to[vflow] (lJ2.west) to[corner] (svnR1);
\draw[member] (faces.south) to[vflow] (lJ3.west) to[corner] (action.east);

\draw[member] (asimbaxml.south) to[vflow] (lK1.west) to[corner] (action.west);
\draw[member] (queue.south) to[vflow] (lK2.west) to[vflow] (svnT1);
\draw[member] (listpair.south) to[vflow] (lK3.west) to[vflow] (svntimer.north east);
\draw[member] (shibL5) to[corner] (svnR2);

\draw[member] (svntimer.south) -- (action.north);
\draw[member] (idpentry.south) to[vflow] (lL2.west) to[corner] (action.east);
\draw[member] (listidp.south) to[vflow] (lL3.west) to[corner] (action.east);
\draw[member] (convsvc.south) to[vflow] (lL4.west) to[corner] (action.east);

% inheritance
\draw[inherit] (oxTop) to[vflow] (config.south);
\draw[inherit] (sslsvc.north) to[corner] (serial.west);
\draw[inherit] (encsvc.north) to[vflow] (serial.south);
\draw[inherit] (tplsvc.north) to[vflow] (serial.south);
\draw[inherit] (filtersvc.north) to[vflow] (serial.south);
\draw[inherit] (profsvc.north) to[vflow] (serial.south);
\draw[inherit] (shibsvc.north) to[vflow] (serial.south);
\draw[inherit] (svntimer.north east) to[vflow] (serial.south west);
\draw[inherit] (action.north west) to[vflow] (serial.south west);
\draw[inherit] (orgsvc.north) to[corner] (serial.east);
\draw[inherit] (svcutil.north) to[corner] (serial.east);
\draw[inherit] (cassvc.north) to[corner] (serial.east);
\draw[inherit] (appsvc.north) to[corner] (serial.east);
\draw[inherit] (asimbasvc.north) to[corner] (serial.east);
\draw[inherit] (attrsvc.north) to[corner] (serial.east);
\draw[inherit] (trustsvc.north) to[corner] (serial.east);
\end{scope}
\end{tikzpicture}
\end{document}
